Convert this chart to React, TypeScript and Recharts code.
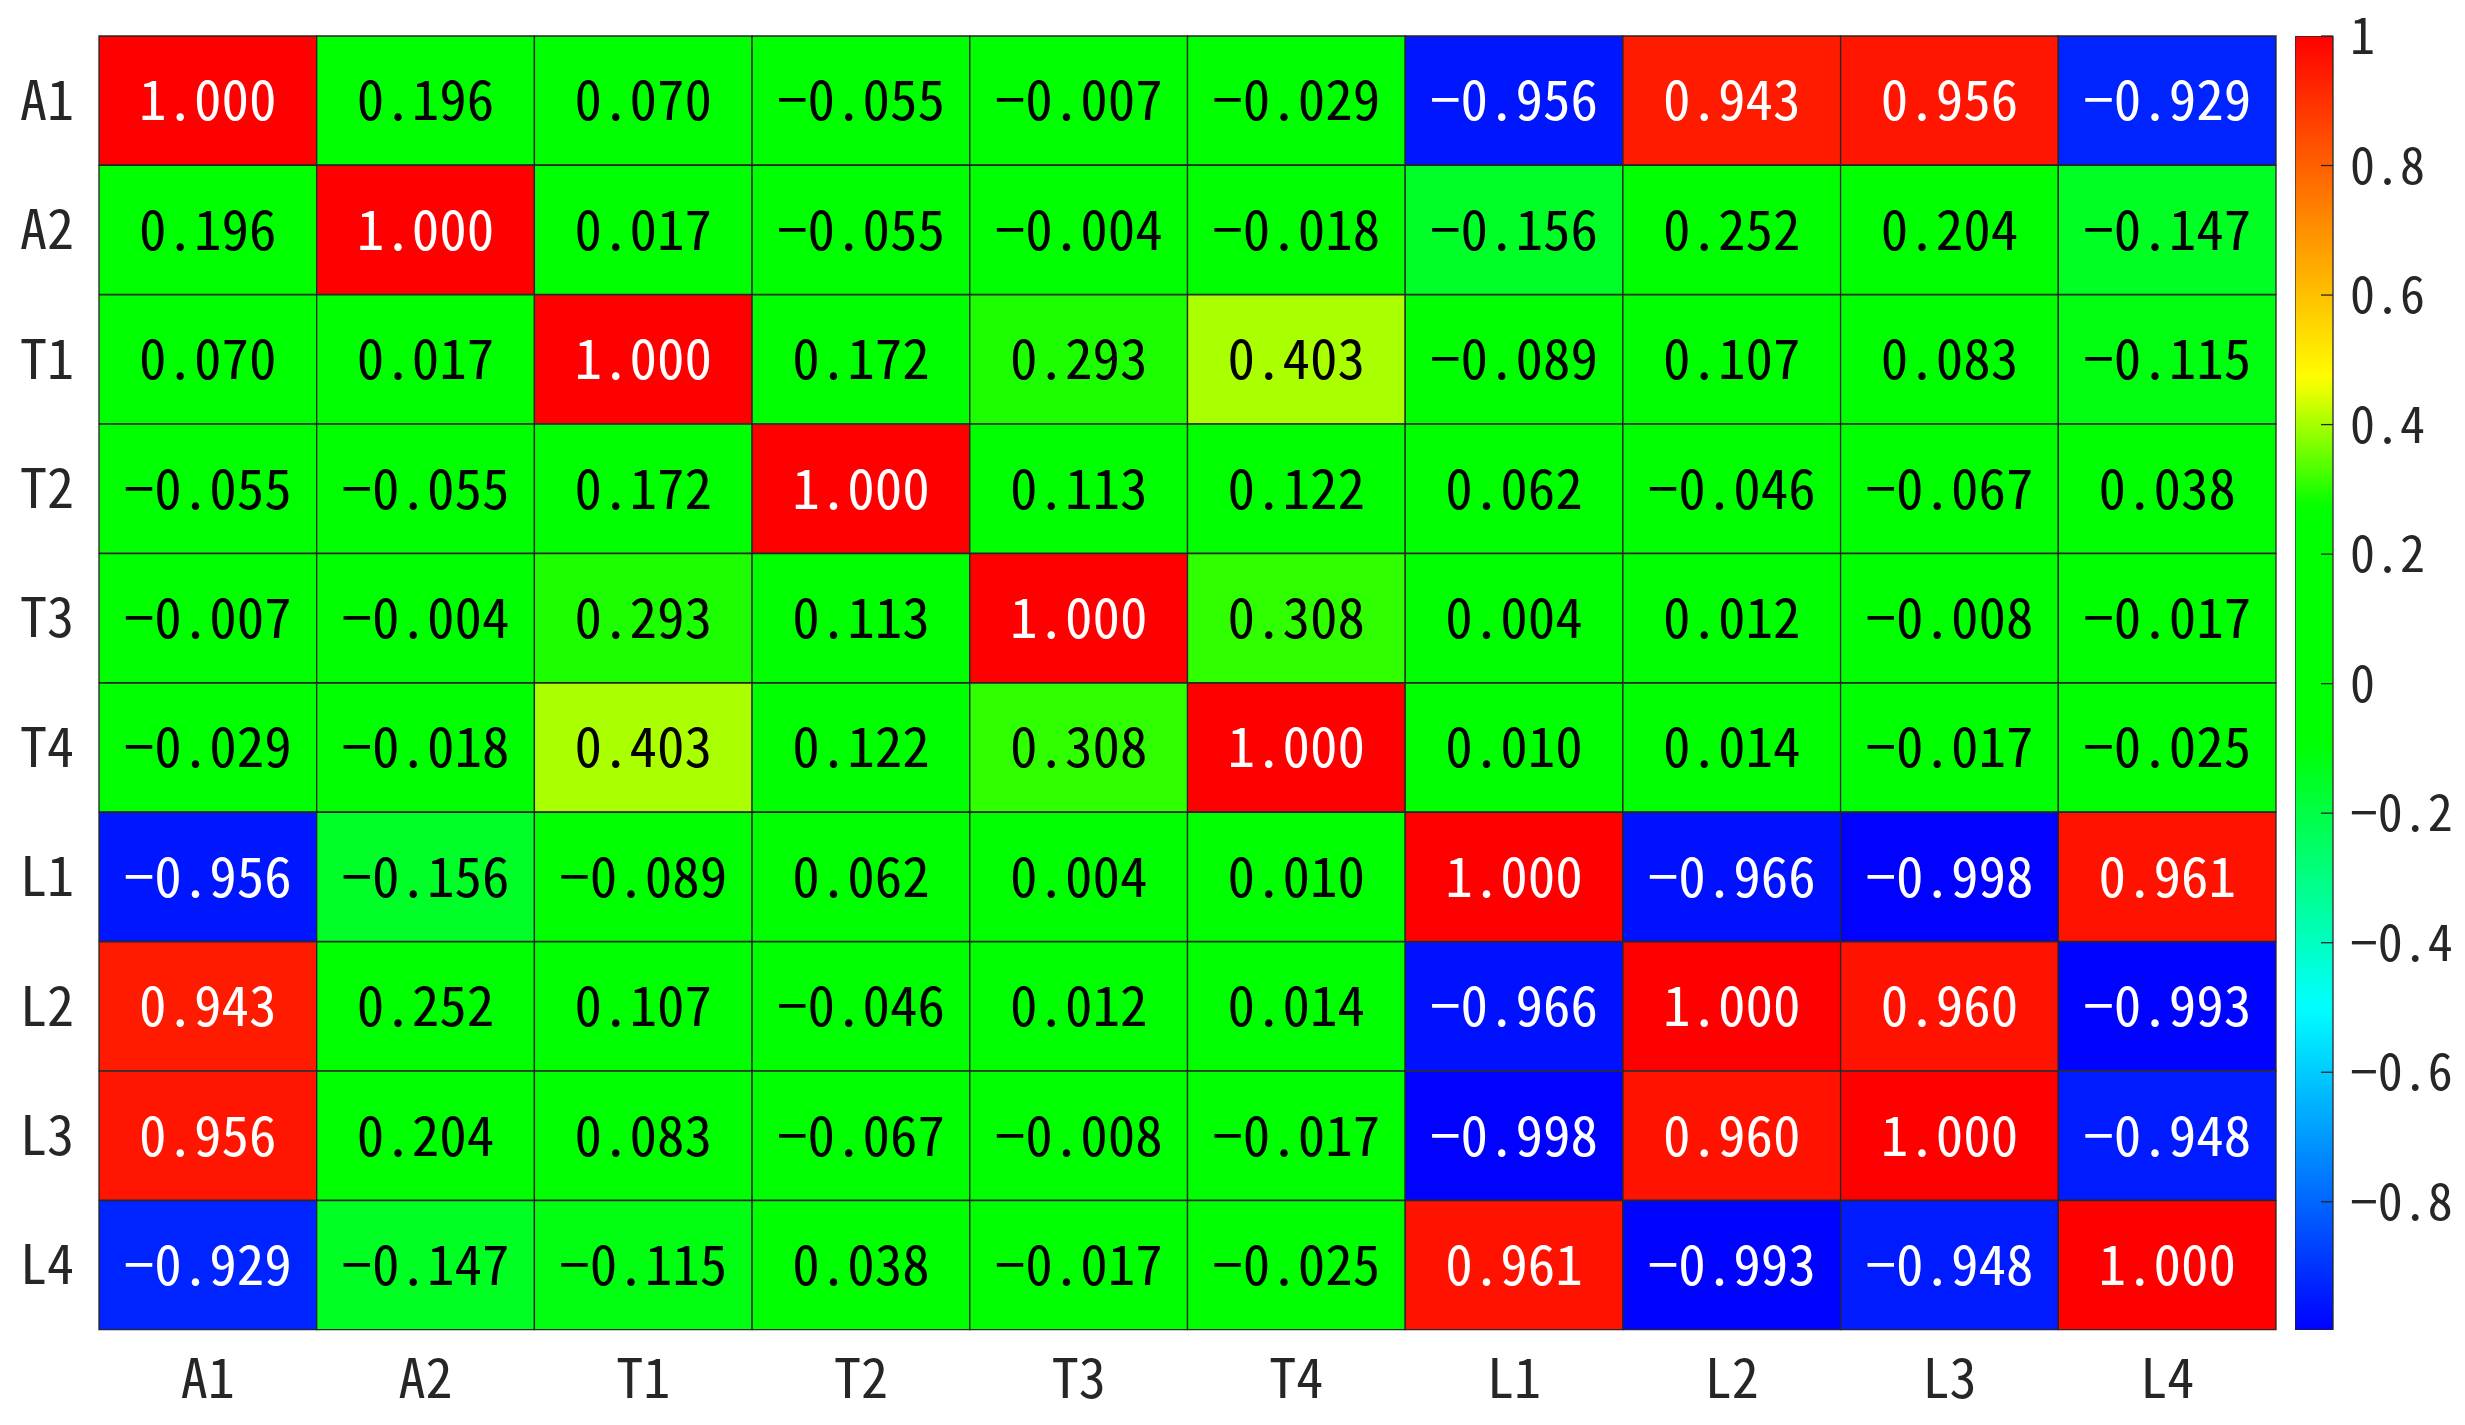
import React from "react";
import { BarChart, Bar, XAxis, YAxis, Cell, LabelList } from "recharts";

const variables = ["A1", "A2", "T1", "T2", "T3", "T4", "L1", "L2", "L3", "L4"];

// correlation matrix, one row per variable
const rowA1 = [1.0, 0.196, 0.07, -0.055, -0.007, -0.029, -0.956, 0.943, 0.956, -0.929];
const rowA2 = [0.196, 1.0, 0.017, -0.055, -0.004, -0.018, -0.156, 0.252, 0.204, -0.147];
const rowT1 = [0.07, 0.017, 1.0, 0.172, 0.293, 0.403, -0.089, 0.107, 0.083, -0.115];
const rowT2 = [-0.055, -0.055, 0.172, 1.0, 0.113, 0.122, 0.062, -0.046, -0.067, 0.038];
const rowT3 = [-0.007, -0.004, 0.293, 0.113, 1.0, 0.308, 0.004, 0.012, -0.008, -0.017];
const rowT4 = [-0.029, -0.018, 0.403, 0.122, 0.308, 1.0, 0.01, 0.014, -0.017, -0.025];
const rowL1 = [-0.956, -0.156, -0.089, 0.062, 0.004, 0.01, 1.0, -0.966, -0.998, 0.961];
const rowL2 = [0.943, 0.252, 0.107, -0.046, 0.012, 0.014, -0.966, 1.0, 0.96, -0.993];
const rowL3 = [0.956, 0.204, 0.083, -0.067, -0.008, -0.017, -0.998, 0.96, 1.0, -0.948];
const rowL4 = [-0.929, -0.147, -0.115, 0.038, -0.017, -0.025, 0.961, -0.993, -0.948, 1.0];

const matrix = [rowA1, rowA2, rowT1, rowT2, rowT3, rowT4, rowL1, rowL2, rowL3, rowL4];

// colour bar
const cbRange = [-0.998, 1];
const cbTicks = [1, 0.8, 0.6, 0.4, 0.2, 0, -0.2, -0.4, -0.6, -0.8];

// blue -> cyan -> green (plateau) -> yellow -> red
const cmapStops: [number, number[]][] = [
  [-1, [0, 0, 255]],
  [-0.5, [0, 255, 255]],
  [-0.09, [0, 255, 0]],
  [0.27, [0, 255, 0]],
  [0.47, [255, 255, 0]],
  [1, [255, 0, 0]],
];

const FONT = "'Noto Sans Mono CJK SC', 'Noto Sans CJK SC', 'DejaVu Sans Mono', monospace";
const INK = "#262626";

function colorOf(v: number) {
  for (let k = 1; k < cmapStops.length; k++) {
    const [v1, c1] = cmapStops[k];
    if (v <= v1) {
      const [v0, c0] = cmapStops[k - 1];
      const t = Math.max(0, Math.min(1, (v - v0) / (v1 - v0)));
      const c = c0.map((a, i) => Math.round(a + (c1[i] - a) * t));
      return `rgb(${c[0]},${c[1]},${c[2]})`;
    }
  }
  return "rgb(255,0,0)";
}

function fmt(v: number, digits: number) {
  const s = Math.abs(v).toFixed(digits);
  return (v < 0 ? "\u2212" : "") + s;
}

function fmtTick(v: number) {
  const r = Math.round(v * 10) / 10;
  if (r === 0) return "0";
  return (r < 0 ? "\u2212" : "") + String(Math.abs(r));
}

// each row: one unit-wide stacked segment per column, plus the value to print
const rows = variables.map((name, i) => {
  const r: any = { name };
  matrix[i].forEach((v, j) => {
    r[`c${j}`] = 1;
    r[`v${j}`] = v;
  });
  return r;
});

const colTicks = variables.map((_, j) => j + 0.5);

const cbData = [{ name: "cb", range: cbRange }];

function ValueLabel(props: any) {
  const { x, y, width, height, value } = props;
  const white = Math.abs(value) > 0.5;
  return (
    <text
      x={x + width / 2}
      y={y + height / 2}
      dy="0.36em"
      textAnchor="middle"
      fontSize={55}
      fontFamily={FONT}
      fill={white ? "#ffffff" : "#000000"}
    >
      {fmt(value, 3)}
    </text>
  );
}

function CbTick(props: any) {
  const { x, y, payload } = props;
  return (
    <g>
      <line x1={x - 12} x2={x} y1={y} y2={y} stroke={INK} strokeWidth={1.3} />
      <text x={x + 17} y={y} dy="0.36em" fontSize={50} fontFamily={FONT} fill={INK}>
        {fmtTick(payload.value)}
      </text>
    </g>
  );
}

export default function App() {
  // sample the colour map along the bar, top = 1, bottom = min
  const span = cbRange[1] - cbRange[0];
  const gradStops = Array.from({ length: 81 }, (_, k) => {
    const v = cbRange[1] - (span * k) / 80;
    return <stop key={k} offset={`${(k / 80) * 100}%`} stopColor={colorOf(v)} />;
  });

  return (
    <div style={{ position: "fixed", left: 0, top: 0, width: 2465, height: 1425, background: "#fff" }}>
      <div style={{ position: "absolute", left: 0, top: 0 }}>
        <BarChart
          width={2465}
          height={1425}
          layout="vertical"
          data={rows}
          barCategoryGap={0}
          margin={{ top: 36, right: 189, bottom: 0, left: 0 }}
        >
          <XAxis
            type="number"
            domain={[0, variables.length]}
            ticks={colTicks}
            interval={0}
            tickFormatter={(v: number) => variables[Math.floor(v)]}
            axisLine={false}
            tickLine={false}
            tickSize={0}
            tickMargin={30}
            height={95}
            tick={{ fontSize: 54, fill: INK, fontFamily: FONT }}
          />
          <YAxis
            type="category"
            dataKey="name"
            width={99}
            axisLine={false}
            tickLine={false}
            tickSize={0}
            tickMargin={25}
            interval={0}
            tick={{ fontSize: 54, fill: INK, fontFamily: FONT }}
          />
          {variables.map((col, j) => (
            <Bar key={col} dataKey={`c${j}`} stackId="m" isAnimationActive={false}>
              {rows.map((r, i) => (
                <Cell key={i} fill={colorOf(matrix[i][j])} stroke={INK} strokeWidth={1.3} />
              ))}
              <LabelList dataKey={`v${j}`} content={<ValueLabel />} />
            </Bar>
          ))}
        </BarChart>
      </div>

      <div style={{ position: "absolute", left: 2295, top: 0 }}>
        <BarChart
          width={170}
          height={1425}
          data={cbData}
          barCategoryGap={0}
          margin={{ top: 36, right: 0, bottom: 95, left: 0 }}
        >
          <defs>
            <linearGradient id="cbGrad" x1="0" y1="0" x2="0" y2="1">
              {gradStops}
            </linearGradient>
          </defs>
          <XAxis dataKey="name" hide />
          <YAxis
            orientation="right"
            type="number"
            domain={cbRange}
            ticks={cbTicks}
            interval={0}
            allowDataOverflow
            width={132}
            axisLine={false}
            tickLine={false}
            tickSize={0}
            tickMargin={0}
            tick={<CbTick />}
          />
          <Bar dataKey="range" fill="url(#cbGrad)" stroke={INK} strokeWidth={1.3} isAnimationActive={false} />
        </BarChart>
      </div>
    </div>
  );
}
